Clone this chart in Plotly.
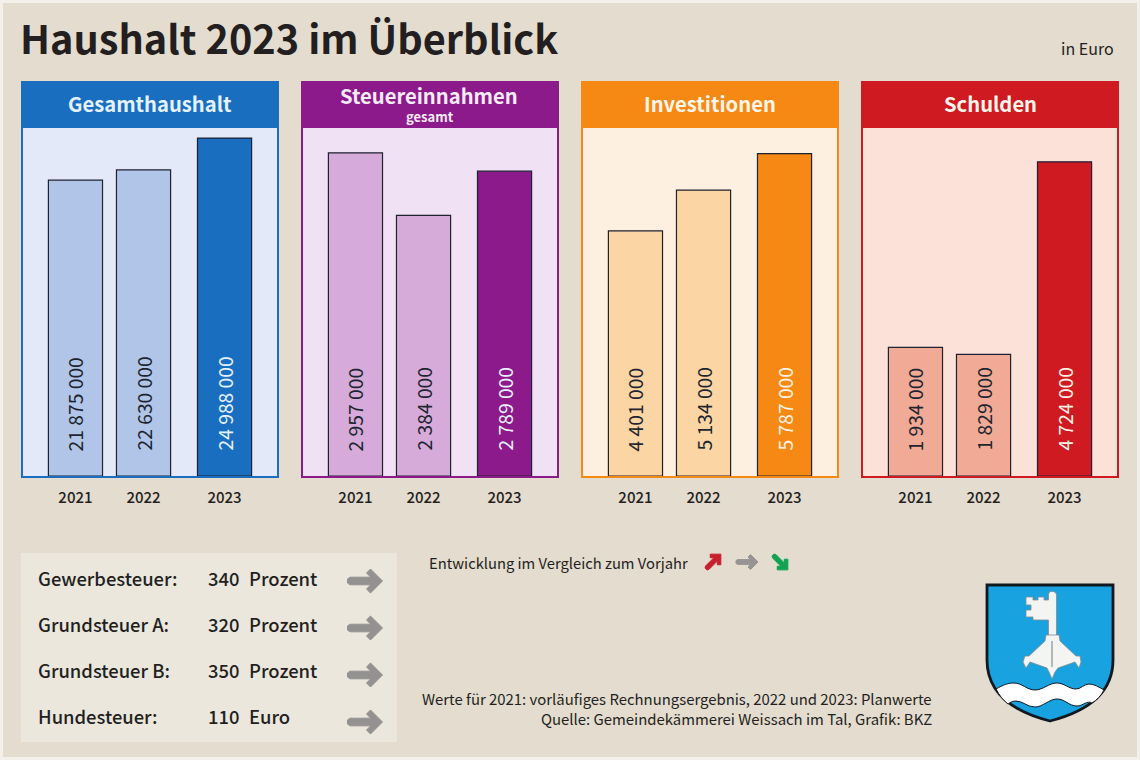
import math
import plotly.graph_objects as go

W, H = 1140, 760
FONT = "Noto Sans CJK SC"

years = ["2021", "2022", "2023"]
panel_titles = ["Gesamthaushalt", "Steuereinnahmen", "Investitionen", "Schulden"]
gesamthaushalt = [21875000, 22630000, 24988000]
steuereinnahmen = [2957000, 2384000, 2789000]
investitionen = [4401000, 5134000, 5787000]
schulden = [1934000, 1829000, 4724000]

tax_names = ["Gewerbesteuer:", "Grundsteuer A:", "Grundsteuer B:", "Hundesteuer:"]
tax_values = [340, 320, 350, 110]
tax_units = ["Prozent", "Prozent", "Prozent", "Euro"]

title_text = "Haushalt 2023 im Überblick"
footer_lines = ["Werte für 2021: vorläufiges Rechnungsergebnis, 2022 und 2023: Planwerte",
                "Quelle: Gemeindekämmerei Weissach im Tal, Grafik: BKZ"]

# styles
series = [gesamthaushalt, steuereinnahmen, investitionen, schulden]
panel_left = [21, 301, 581, 861]
panel_w = 258
dark = ["#1a6ebf", "#8c1a8b", "#f68913", "#d01a22"]
pale = ["#e3e9f8", "#f0e1f4", "#fef0e1", "#fce1d8"]
mid = ["#b1c5e9", "#d6abd9", "#fcd5a5", "#f0aa95"]
y_tops = [25.73e6, 3.184e6, 6.248e6, 5.233e6]
slots = [0, 1, 2.19]
text_dark = "#1d2530"
ink = "#231f20"


def px(x):
    return x / W


def py(y):
    return 1 - y / H


def P(x, y):
    return f"{px(x):.5f} {py(y):.5f}"


def rect(x0, y0, x1, y1, fill, line=None, lw=0):
    return dict(type="rect", xref="paper", yref="paper", x0=px(x0), x1=px(x1), y0=py(y1), y1=py(y0),
                fillcolor=fill, line=dict(color=line or fill, width=lw), layer="below")


def path(cmds, fill, line=None, lw=0, layer="above"):
    out = []
    for c in cmds:
        if c[0] == "Z":
            out.append("Z")
        else:
            pts = c[1:]
            out.append(c[0] + " " + " ".join(P(pts[i], pts[i + 1]) for i in range(0, len(pts), 2)))
    return dict(type="path", xref="paper", yref="paper", path=" ".join(out), fillcolor=fill,
                line=dict(color=line or fill, width=lw), layer=layer)


def poly(points, fill, line=None, lw=0):
    cmds = [("M", *points[0])] + [("L", *p) for p in points[1:]] + [("Z",)]
    return path(cmds, fill, line, lw)


def arrow(x, y, L, t, h, deg, color):
    tb = t * 1.05
    r = t * 0.7
    local = [(r, -t), (L - t - 2 * tb, -t), (L - h - tb, -h + tb), (L - h, -h), (L, 0),
             (L - h, h), (L - h - tb, h - tb), (L - t - 2 * tb, t), (r, t), (0, t * 0.55), (0, -t * 0.55)]
    a = math.radians(deg)
    pts = [(x + lx * math.cos(a) - ly * math.sin(a), y + lx * math.sin(a) + ly * math.cos(a)) for lx, ly in local]
    return poly(pts, color, color, 1)


def note(x, y, text, size, color=ink, anchor="left", weight=400, **kw):
    return dict(xref="paper", yref="paper", x=px(x), y=py(y), text=text, showarrow=False, xanchor=anchor,
                yanchor="middle", borderpad=0, font=dict(family=FONT, size=size, color=color, weight=weight), **kw)


fig = go.Figure()
shapes = [rect(3, 3, 1137, 757, "#e3dccf")]
annotations = []
layout_axes = {}

for i, vals in enumerate(series):
    n = i + 1
    left = panel_left[i]
    xname = "x" if i == 0 else f"x{n}"
    yname = "y" if i == 0 else f"y{n}"
    shapes.append(rect(left + 1, 82, left + panel_w - 1, 477, pale[i], dark[i], 2))
    shapes.append(rect(left, 81, left + panel_w, 128, dark[i]))
    colors = [mid[i], mid[i], dark[i]]
    fig.add_trace(go.Bar(x=slots, y=vals, xaxis=xname, yaxis=yname, width=0.795, showlegend=False,
                         marker=dict(color=colors, line=dict(color="#1c2230", width=1.2))))
    layout_axes["xaxis" if i == 0 else f"xaxis{n}"] = dict(
        domain=[px(left), px(left + panel_w)], range=[-0.80, 2.99], tickmode="array", tickvals=slots,
        ticktext=years, ticks="outside", ticklen=8, tickcolor="rgba(0,0,0,0)", showgrid=False, zeroline=False,
        showline=False, tickfont=dict(family=FONT, size=15, color=ink, weight=500), anchor=yname)
    layout_axes["yaxis" if i == 0 else f"yaxis{n}"] = dict(
        domain=[py(476), py(128)], range=[0, y_tops[i]], visible=False, anchor=xname)
    for s, v, c in zip(slots, vals, [text_dark, text_dark, "#e6f2fb" if i < 2 else "#fdf1e6"]):
        annotations.append(dict(xref=xname, yref=yname, x=s, y=0, yshift=24, text=f"{v:,}".replace(",", " "),
                                textangle=-90, showarrow=False, xanchor="center", yanchor="bottom", borderpad=0,
                                font=dict(family=FONT, size=19.3, color=c)))
    if i == 1:
        annotations.append(note(left + panel_w / 2 - 1, 95, panel_titles[i], 20.2, "#f6ecf6", "center", 700))
        annotations.append(note(left + panel_w / 2, 116, "gesamt", 13, "#f6ecf6", "center", 700))
    else:
        annotations.append(note(left + panel_w / 2, 104, panel_titles[i], 20.2, "#fff6ec" if i else "#e6f2fb", "center", 700))

annotations.append(note(19, 36.5, title_text, 39.7, ink, "left", 700))
annotations.append(note(1114.5, 47.5, "in Euro", 16, ink, "right"))

# tax box
shapes.append(rect(21, 553, 397, 742, "#ebe7dd"))
row_y = [578, 624, 670, 716]
arrow_y = [581, 628, 675, 722]
for name, val, unit, y, ay in zip(tax_names, tax_values, tax_units, row_y, arrow_y):
    annotations.append(note(37, y, name, 18.4, ink, "left", 500))
    annotations.append(note(240, y, str(val), 18.4, ink, "right", 500))
    annotations.append(note(248, y, unit, 18.4, ink, "left", 500))
    shapes.append(arrow(347.5, ay, 35, 3.8, 12, 0, "#949290"))

# legend of arrows
annotations.append(note(427.5, 562, "Entwicklung im Vergleich zum Vorjahr", 14.75, ink))
shapes.append(arrow(706, 569, 21, 2.4, 7.5, -45, "#c81f2d"))
shapes.append(arrow(736, 562, 22, 2.4, 7.5, 0, "#979593"))
shapes.append(arrow(773, 555, 21, 2.4, 7.5, 45, "#10a152"))

for line, y in zip(footer_lines, [698.5, 718.5]):
    annotations.append(note(933, y, line, 14.9, ink, "right"))

# crest
shapes.append(path([("M", 987, 585), ("L", 1113, 585), ("L", 1113, 660),
                    ("C", 1113, 695, 1085, 712, 1050, 721), ("C", 1015, 712, 987, 695, 987, 660), ("Z",)],
                   "#18a3e0", "#101820", 2.8))
shapes.append(path([("M", 996, 689), ("C", 1003, 685, 1008, 683, 1014, 683), ("C", 1022, 683, 1027, 690, 1035, 690),
                    ("C", 1043, 690, 1049, 683, 1057, 683), ("C", 1064, 683, 1069, 689, 1076, 689),
                    ("C", 1081, 689, 1084, 684, 1089, 684), ("C", 1094, 684, 1099, 687, 1104, 690),
                    ("C", 1101, 696, 1097, 700, 1092, 703), ("C", 1087, 700, 1083, 706, 1077, 706),
                    ("C", 1069, 706, 1065, 699, 1057, 699), ("C", 1049, 699, 1043, 707, 1035, 707),
                    ("C", 1027, 707, 1023, 701, 1016, 701), ("C", 1013, 701, 1011, 702, 1008, 704),
                    ("C", 1003, 700, 999, 695, 996, 689), ("Z",)], "#ffffff", "#101820", 1))
key_white = "#f4f5f3"
key_edge = "#7f8b90"
shapes.append(poly([(1048.5, 594), (1050, 591.5), (1054, 591.5), (1056.5, 594), (1056.5, 636), (1048.5, 636),
                    (1048.5, 620), (1033, 620), (1033, 617), (1026, 617), (1026, 610), (1031, 610), (1031, 605),
                    (1026, 605), (1026, 597), (1033, 597), (1033, 600), (1038, 600), (1038, 597), (1044, 597),
                    (1044, 600), (1048.5, 600)], key_white, key_edge, 0.8))
shapes.append(poly([(1046, 635), (1059, 635), (1060, 641), (1076, 656), (1080, 656), (1081, 662), (1079, 668),
                    (1075, 662), (1058, 668), (1055, 672), (1052, 679), (1049, 672), (1047, 668), (1030, 662),
                    (1026, 668), (1023, 662), (1025, 656), (1029, 656), (1045, 641)], key_white, key_edge, 0.8))
shapes.append(path([("M", 1052, 641), ("L", 1052, 667)], "rgba(0,0,0,0)", "#9aa4a8", 1.5))

fig.update_layout(width=W, height=H, margin=dict(l=0, r=0, t=0, b=0, pad=0), paper_bgcolor="#f3f0e9",
                  plot_bgcolor="rgba(0,0,0,0)", shapes=shapes, annotations=annotations, barmode="overlay",
                  font=dict(family=FONT), **layout_axes)
fig.write_html("out.html", config=dict(displayModeBar=False),
               post_script="document.body.style.margin='0';document.documentElement.style.background='#f3f0e9';")
